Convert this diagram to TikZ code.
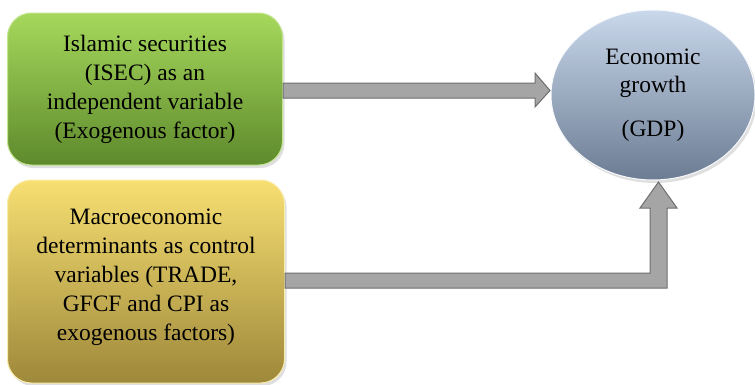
\documentclass[tikz,border=0pt]{standalone}
\usepackage{fontspec}
\setmainfont{Liberation Serif}
\newfontfamily\tnr{Liberation Serif}
\usetikzlibrary{shadows,calc,shapes.geometric}
\definecolor{greenT}{HTML}{A6D85C}
\definecolor{greenB}{HTML}{5E8A2C}
\definecolor{yelT}{HTML}{F7DF72}
\definecolor{yelB}{HTML}{9E883A}
\definecolor{bluT}{HTML}{C9D8EB}
\definecolor{bluB}{HTML}{6C7C93}
\definecolor{arrFill}{HTML}{A5A5A5}
\definecolor{arrLine}{HTML}{6E6E6E}
\tikzset{
  box/.style={rounded corners=24pt, minimum width=275pt, align=center,
    inner sep=0pt,
    drop shadow={opacity=0.25, shadow xshift=2pt, shadow yshift=-3pt}},
  boxtext/.style={align=center, font=\tnr\fontsize{23.5}{29}\selectfont, inner sep=0pt},
  fatarrow/.style={fill=arrFill, draw=arrLine, line width=1pt, line join=miter}
}
\begin{document}
\begin{tikzpicture}[x=1pt,y=-1pt]
\useasboundingbox (0,0) rectangle (755,384);
% boxes
\node[box, top color=greenT, bottom color=greenB, draw=greenT!70!white, line width=1pt,
      minimum height=152pt] (isec) at (145,89) {};
\node[boxtext] (isectxt) at (145,89)
  {Islamic securities\\(ISEC) as an\\independent variable\\(Exogenous factor)};
\node[box, top color=yelT, bottom color=yelB, draw=yelT!60!white, line width=1pt,
      minimum width=277pt, minimum height=203pt] (macro) at (146,281.5) {};
\node[boxtext] (macrotxt) at (146,277)
  {Macroeconomic\\determinants as control\\variables (TRADE,\\GFCF and CPI as\\exogenous factors)};
\node[shape=ellipse, minimum width=204pt, minimum height=170pt,
      top color=bluT, bottom color=bluB, draw=white!85!bluT, line width=1pt, inner sep=0pt,
      drop shadow={opacity=0.25, shadow xshift=2pt, shadow yshift=-3pt}] (gdp) at (653,95) {};
\node[font=\tnr\fontsize{23.5}{28}\selectfont, align=center] (gdptxt) at (653,73.5) {Economic\\growth};
\node[font=\tnr\fontsize{23.5}{28}\selectfont] (gdplab) at (653,131) {(GDP)};
% arrow 1
\coordinate (a1s) at (isec.east |- 0,90.5);
\draw[fatarrow] ($(a1s)+(0,-7.5)$) -- (535,83) -- (535,73) -- (550,90.5) -- (535,107) -- (535,98) -- ($(a1s)+(0,7.5)$) -- cycle;
% arrow 2
\coordinate (a2s) at (macro.east |- 0,280.5);
\draw[fatarrow] ($(a2s)+(0,-7.5)$) -- (650,273) -- (650,208) -- (640,208) -- (658.5,182) -- (677,208) -- (667,208) -- (667,288) -- ($(a2s)+(0,7.5)$) -- cycle;
\end{tikzpicture}
\end{document}
